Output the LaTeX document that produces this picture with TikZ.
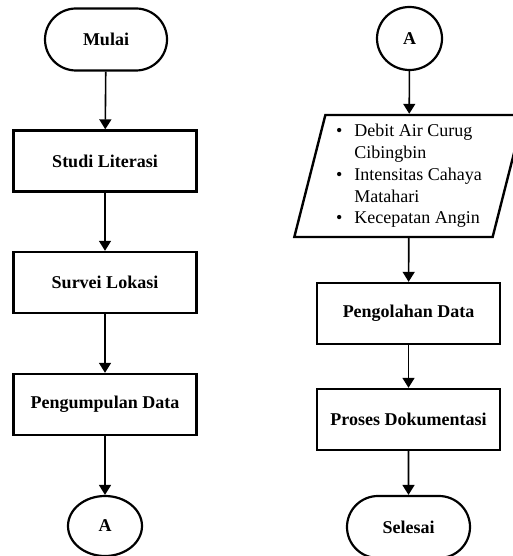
\documentclass[tikz,border=0pt]{standalone}
\usepackage{fontspec}
\setmainfont{Liberation Serif}
\usetikzlibrary{arrows.meta,shapes.geometric,shapes.misc}
\newcommand{\flowfont}{\fontsize{18}{21.7}\selectfont}
\tikzset{
    every node/.style={align=center,font=\flowfont,},
    process/.style={draw,rectangle,line width=2.4pt,minimum width=183pt,minimum height=61pt,inner sep=0pt,font=\flowfont\bfseries,},
    terminal/.style={draw,rounded rectangle,line width=2.2pt,minimum width=122pt,minimum height=62pt,inner sep=0pt,font=\flowfont\bfseries,},
    connector/.style={draw,ellipse,line width=2.2pt,inner sep=0pt,font=\flowfont\bfseries,},
    datain/.style={draw,trapezium,trapezium left angle=76,trapezium right angle=104,trapezium stretches=true,line width=2.4pt,minimum width=230pt,minimum height=122pt,inner sep=0pt,align=left,},
    flow/.style={-{Triangle[width=12pt,length=10pt]},line width=1.6pt,},
}

\begin{document}
\begin{tikzpicture}[x=1pt,y=-1pt]
                \useasboundingbox (0,0) rectangle (513,556);

                % kolom kiri
                \node[terminal] (mulai) at (106, 39.5) {Mulai};
                \node[process] (studi) at (105, 161) {Studi Literasi};
                \node[process] (survei) at (105, 282.5) {Survei Lokasi};
                \node[process] (kumpul) at (105, 404.5) {Pengumpulan Data};
                \node[connector, minimum width=74pt, minimum height=60pt] (konA) at (105, 526) {A};

                % kolom kanan
                \node[connector, minimum width=65pt, minimum height=63pt] (konB) at (409.5, 38.5) {A};
                \node[datain] (data) at (409, 176) {%
                    \begin{tabular}{@{}l@{\hspace{12pt}}l@{}}
                        \textbullet & Debit Air Curug\\
                                    & Cibingbin\\
                        \textbullet & Intensitas Cahaya\\
                                    & Matahari\\
                        \textbullet & Kecepatan Angin
                    \end{tabular}};
                \node[process] (olah) at (408.5, 313.5) {Pengolahan Data};
                \node[process] (proses) at (408.5, 419.5) {Proses Dokumentasi};
                \node[terminal, minimum width=123pt] (selesai) at (408.5, 527) {Selesai};

                \path (mulai) edge[flow] (studi);
                \path (studi) edge[flow] (survei);
                \path (survei) edge[flow] (kumpul);
                \path (kumpul) edge[flow] (konA);

                \path (konB) edge[flow] (data);
                \path (data) edge[flow] (olah);
                \path (olah) edge[flow] (proses);
                \path (proses) edge[flow] (selesai);
            \end{tikzpicture}
\end{document}
